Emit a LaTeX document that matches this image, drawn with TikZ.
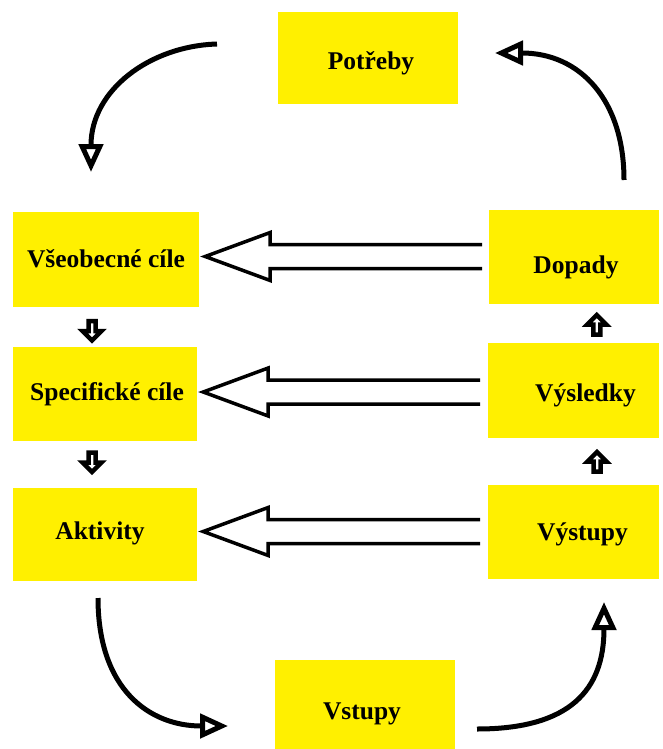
\documentclass[tikz,border=0pt]{standalone}
\usepackage{fontspec}
\setmainfont{Liberation Serif}
\usetikzlibrary{arrows.meta,calc}
\definecolor{boxyellow}{RGB}{255,240,0}
\begin{document}
\begin{tikzpicture}[x=1pt,y=-1pt,
  box/.style={fill=boxyellow, inner sep=0pt},
  boxtext/.style={inner sep=0pt, font=\fontsize{25.5}{30}\selectfont\bfseries},
  curvearrow/.style={line width=5pt, -{Triangle[open,length=28pt,width=24pt,line width=5pt]}},
  hollow/.pic={\draw[line width=3.5pt] (277,-12) -- (65,-12) -- (65,-24) -- (0,0) -- (65,24) -- (65,12) -- (277,12);},
  blockarrow/.pic={\draw[line width=4.5pt, fill=white, line join=miter] (-3.5,-10) -- (3.5,-10) -- (3.5,0) -- (9.5,0) -- (0,9.5) -- (-9.5,0) -- (-3.5,0) -- cycle;}
]
\useasboundingbox (0,0) rectangle (662,749);

\node[box, minimum width=180pt, minimum height=92pt] (potreby) at (368,58) {};
\node[box, minimum width=186pt, minimum height=95pt] (vseob) at (106,259.5) {};
\node[box, minimum width=184pt, minimum height=94pt] (spec) at (105,394) {};
\node[box, minimum width=184pt, minimum height=93pt] (aktiv) at (105,534.5) {};
\node[box, minimum width=170pt, minimum height=94pt] (dopady) at (574,257) {};
\node[box, minimum width=171pt, minimum height=95pt] (vysl) at (573.5,390.5) {};
\node[box, minimum width=171pt, minimum height=94pt] (vystup) at (573.5,532) {};
\node[box, minimum width=180pt, minimum height=89pt] (vstupy) at (365,704.5) {};

\node[boxtext] (tpotreby) at ($(potreby)+(3,5)$) {Potřeby};
\node[boxtext] (tvseob) at ($(vseob)+(0,-1)$) {Všeobecné cíle};
\node[boxtext] (tspec) at ($(spec)+(2,0)$) {Specifické cíle};
\node[boxtext] (taktiv) at ($(aktiv)+(-5,-1)$) {Aktivity};
\node[boxtext] (tdopady) at ($(dopady)+(2,10)$) {Dopady};
\node[boxtext] (tvysl) at ($(vysl)+(12,5)$) {Výsledky};
\node[boxtext] (tvystup) at ($(vystup)+(9,2)$) {Výstupy};
\node[boxtext] (tvstupy) at ($(vstupy)+(-3,9)$) {Vstupy};

% curved arrows
\coordinate (c1s) at (217,44);  \coordinate (c1e) at (91,172);
\coordinate (c2s) at (624,180); \coordinate (c2e) at (495,53);
\coordinate (c3s) at (98,598);  \coordinate (c3e) at (228,726);
\coordinate (c4s) at (477,729); \coordinate (c4e) at (604,602);
\draw[curvearrow] (c1s) .. controls (150,46) and (91,90) .. (c1e);
\draw[curvearrow] (c2s) .. controls (624,100) and (580,53) .. (c2e);
\draw[curvearrow] (c3s) .. controls (98,690) and (150,726) .. (c3e);
\draw[curvearrow] (c4s) .. controls (570,729) and (604,690) .. (c4e);

% hollow horizontal arrows
\pic at ($(vseob.east)+(6,-3)$) {hollow};
\pic at ($(spec.east)+(6,-2)$) {hollow};
\pic at ($(aktiv.east)+(6,-3)$) {hollow};

% small block arrows
\pic at ($(vseob.south)!0.5!(spec.north)+(-13.5,4)$) {blockarrow};
\pic at ($(spec.south)!0.5!(aktiv.north)+(-13,-2)$) {blockarrow};
\pic[rotate=180] at ($(dopady.south)!0.5!(vysl.north)+(23,1)$) {blockarrow};
\pic[rotate=180] at ($(vysl.south)!0.5!(vystup.north)+(23.5,0)$) {blockarrow};
\end{tikzpicture}
\end{document}
